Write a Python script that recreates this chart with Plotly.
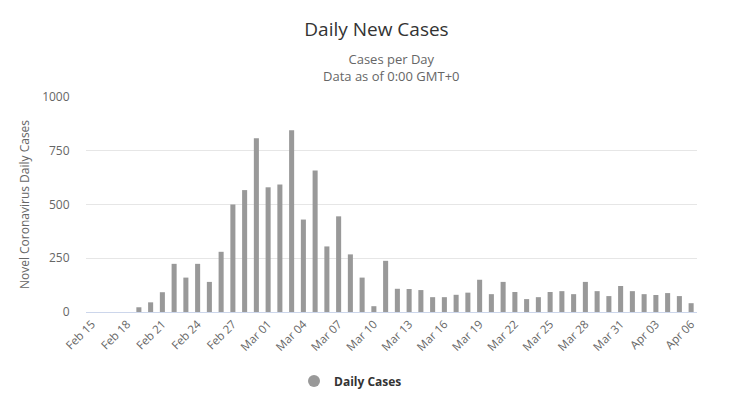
import plotly.graph_objects as go
import pandas as pd

dates = [d.strftime("%b %d") for d in pd.date_range("2020-02-15", "2020-04-06")]
daily_cases = [0, 0, 0, 0, 22, 45, 92, 224, 160, 224, 140, 280, 500, 567, 808,
               580, 593, 845, 430, 658, 305, 445, 268, 160, 27, 238, 108, 107,
               102, 69, 69, 80, 90, 150, 83, 140, 93, 60, 69, 93, 97, 83, 140,
               97, 74, 121, 97, 83, 79, 88, 74, 41]
tick_labels = dates[::3]

FONT = "Open Sans"
PLOT_LEFT, PLOT_RIGHT = 86, 697
PLOT_TOP, PLOT_BOTTOM = 97, 312


def ypaper(px):
    return (PLOT_BOTTOM - px) / (PLOT_BOTTOM - PLOT_TOP)


def xpaper(px):
    return (px - PLOT_LEFT) / (PLOT_RIGHT - PLOT_LEFT)


fig = go.Figure()
fig.add_trace(go.Bar(
    x=dates, y=daily_cases, name="Daily Cases",
    marker=dict(color="#999999", line=dict(width=0)),
    showlegend=False,
))
# legend entry with circle symbol
fig.add_trace(go.Scatter(
    x=[None], y=[None], mode="markers", name="Daily Cases",
    marker=dict(color="#999999", size=12, symbol="circle"),
))

fig.update_layout(
    width=753, height=393,
    margin=dict(l=PLOT_LEFT, r=753 - PLOT_RIGHT, t=PLOT_TOP, b=393 - PLOT_BOTTOM,
                autoexpand=False),
    paper_bgcolor="white", plot_bgcolor="white",
    font=dict(family=FONT, color="#666666", size=11),
    bargap=0.57,
    title=dict(text="Daily New Cases", x=0.5, xanchor="center",
               y=1 - 29 / 393, yanchor="middle", yref="container",
               font=dict(family=FONT, size=19, color="#333333")),
    showlegend=True,
    legend=dict(orientation="h", x=xpaper(294), xanchor="left", y=ypaper(381),
                yanchor="middle",
                font=dict(family=FONT, size=12, color="#333333", weight="bold"),
                itemsizing="constant"),
    xaxis=dict(type="category", tickmode="array", tickvals=tick_labels,
               ticktext=tick_labels, tickangle=-45, showgrid=False,
               showline=True, linecolor="#ccd6eb", linewidth=1, ticks="",
               tickfont=dict(family=FONT, size=11.5, color="#666666"),
               range=[-0.5, len(dates) - 0.5], automargin=False),
    yaxis=dict(range=[0, 1000], tickvals=[0, 250, 500, 750, 1000],
               showgrid=True, gridcolor="#e6e6e6", gridwidth=1, zeroline=False,
               tickfont=dict(family=FONT, size=12, color="#666666"),
               ticklen=13, ticks="outside", tickcolor="white", automargin=False,
               title=dict(text="Novel Coronavirus Daily Cases", standoff=9,
                          font=dict(family=FONT, size=12, color="#666666"))),
    annotations=[
        dict(text="Cases per Day<br>Data as of 0:00 GMT+0", x=0.5, xref="paper",
             xanchor="center", y=ypaper(67), yref="paper", yanchor="middle",
             showarrow=False, align="center",
             font=dict(family=FONT, size=13, color="#666666")),
    ],
)

fig.write_html("out.html", config={"displayModeBar": False},
               post_script="document.body.style.margin='0';document.body.style.overflow='hidden';")
